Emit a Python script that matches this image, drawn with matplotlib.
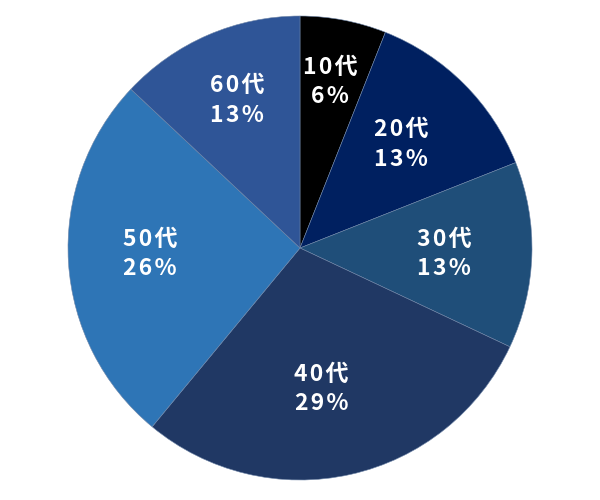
import numpy as np
import matplotlib
matplotlib.use('Agg')
import matplotlib.pyplot as plt

plt.rcParams['font.family'] = ['Noto Sans CJK JP', 'DejaVu Sans']

# ============ DATA ============
ages = ['10代', '20代', '30代', '40代', '50代', '60代']
shares = [6, 13, 13, 29, 26, 13]
colors = ['#000000', '#002060', '#1F4E79', '#203864', '#2E75B6', '#2F5597']
# label placement tweaks (fraction of radius, degrees clockwise)
label_r = [0.74, 0.633, 0.621, 0.602, 0.647, 0.703]
label_shift = [-0.6, -1.5, -0.6, 3.7, 2.5, 0.7]


def spaced(s):
    # the reference has a little tracking between glyphs
    return '\u200a'.join(s)


# ============ PLOT ============
fig = plt.figure(figsize=(6, 5), dpi=100)
ax = fig.add_axes([0, 0, 1, 1])

wedges, _ = ax.pie(shares, colors=colors, startangle=90, counterclock=False,
                   radius=1.0, wedgeprops=dict(edgecolor='#6f86a8', linewidth=0.4))

nudge = 3 / 232  # centre on the glyphs, not on the descender box
for w, age, val, r, sh in zip(wedges, ages, shares, label_r, label_shift):
    mid = np.deg2rad((w.theta1 + w.theta2) / 2 - sh)
    ax.text(r * np.cos(mid), r * np.sin(mid) - nudge,
            spaced(age) + '\n' + spaced(f'{val}%'),
            ha='center', va='center', color='white', fontsize=16.5,
            fontweight='bold', linespacing=1.35)

# pie centre at (300, 248) px, radius 232 px
ax.set_xlim(-300 / 232, 300 / 232)
ax.set_ylim(-252 / 232, 248 / 232)
ax.set_aspect('equal')
ax.axis('off')

plt.savefig('out.png', dpi=100)
plt.close()
